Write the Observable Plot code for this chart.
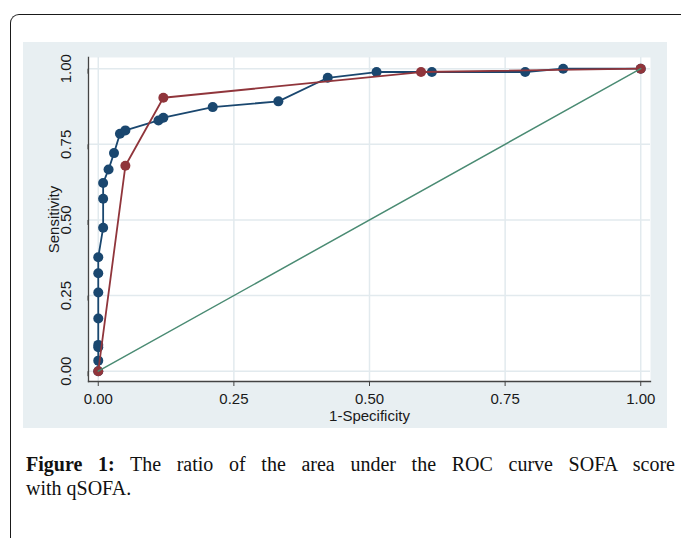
<!DOCTYPE html>
<html>
<head>
<meta charset="utf-8">
<script src="https://cdn.jsdelivr.net/npm/d3@7"></script>
<script src="https://cdn.jsdelivr.net/npm/@observablehq/plot@0.6"></script>
<style>
  html, body { margin: 0; padding: 0; background: #fff; width: 681px; height: 538px; overflow: hidden; }
  #frame { position: absolute; left: 10px; top: 14px; width: 720px; height: 600px;
           border-top: 1.5px solid #1a1a1a; border-left: 1.5px solid #1a1a1a; border-top-left-radius: 9px; }
  #panel { position: absolute; left: 23px; top: 42px; width: 644px; height: 386px; background: #e8eff2; }
  #panel svg { display: block; }
  #caption { position: absolute; left: 26px; top: 452px; width: 649px;
             font-family: "Liberation Serif", "Times New Roman", serif; font-size: 20px; line-height: 24px; color: #111; }
  #caption .l1 { display: block; text-align: justify; text-align-last: justify; }
  #caption .l2 { display: block; }
</style>
</head>
<body>
<div id="frame"></div>
<div id="panel"></div>
<div id="caption"><span class="l1"><b>Figure 1:</b> The ratio of the area under the ROC curve SOFA score</span><span class="l2">with qSOFA.</span></div>
<script>
// SOFA ROC points (1-Specificity, Sensitivity)
const sofaFpr = [0, 0, 0, 0, 0, 0, 0, 0, 0.009, 0.009, 0.009, 0.019, 0.029, 0.040, 0.050, 0.111, 0.120, 0.211, 0.332, 0.423, 0.513, 0.615, 0.787, 0.857, 1];
const sofaTpr = [0, 0.035, 0.079, 0.087, 0.174, 0.260, 0.324, 0.377, 0.474, 0.570, 0.622, 0.667, 0.721, 0.785, 0.796, 0.829, 0.838, 0.873, 0.892, 0.970, 0.989, 0.989, 0.989, 1.0, 1.0];
// qSOFA ROC points
const qsofaFpr = [0, 0.050, 0.120, 0.595, 1];
const qsofaTpr = [0, 0.679, 0.904, 0.989, 1];
// reference (chance) line
const refFpr = [0, 1];
const refTpr = [0, 1];
// ticks
const xTicks = [0, 0.25, 0.5, 0.75, 1];
const yTicks = [0, 0.25, 0.5, 0.75, 1];

const sofa = sofaFpr.map((v, i) => ({x: v, y: sofaTpr[i]}));
const qsofa = qsofaFpr.map((v, i) => ({x: v, y: qsofaTpr[i]}));
const ref = refFpr.map((v, i) => ({x: v, y: refTpr[i]}));

const navy = "#1a476f", maroon = "#90353b", green = "#4a8b73", grid = "#e2eaee";
const fmt = d3.format(".2f");

const chart = Plot.plot({
  width: 644,
  height: 386,
  marginLeft: 65,
  marginRight: 17,
  marginTop: 15,
  marginBottom: 47,
  style: {background: "transparent", fontFamily: "'Liberation Sans', Arial, sans-serif", fontSize: "15px", color: "#1a1a1a"},
  x: {domain: [-0.018, 1.018]},
  y: {domain: [-0.034, 1.037]},
  marks: [
    Plot.frame({fill: "white", stroke: null}),
    Plot.gridX(xTicks, {stroke: grid, strokeOpacity: 1, strokeWidth: 1.5}),
    Plot.gridY(yTicks, {stroke: grid, strokeOpacity: 1, strokeWidth: 1.5}),
    Plot.axisX(xTicks, {tickFormat: fmt, tickSize: 5, tickPadding: 7, stroke: "#444",
      label: "1-Specificity", labelAnchor: "center", labelArrow: "none", labelOffset: 39}),
    Plot.axisY(yTicks, {tickFormat: fmt, tickSize: 5, tickPadding: 17, rotate: -90, textAnchor: "middle", stroke: "#444",
      label: "Sensitivity", labelAnchor: "center", labelArrow: "none", labelOffset: 40}),
    Plot.frame({anchor: "bottom", stroke: "#444", strokeWidth: 1.3}),
    Plot.frame({anchor: "left", stroke: "#444", strokeWidth: 1.3}),
    Plot.line(sofa, {x: "x", y: "y", stroke: navy, strokeWidth: 1.8}),
    Plot.dot(sofa, {x: "x", y: "y", r: 5, fill: navy, stroke: null}),
    Plot.line(qsofa, {x: "x", y: "y", stroke: maroon, strokeWidth: 1.8}),
    Plot.dot(qsofa, {x: "x", y: "y", r: 5, fill: maroon, stroke: null}),
    Plot.line(ref, {x: "x", y: "y", stroke: green, strokeWidth: 1.5})
  ]
});
document.getElementById("panel").appendChild(chart);
</script>
</body>
</html>
